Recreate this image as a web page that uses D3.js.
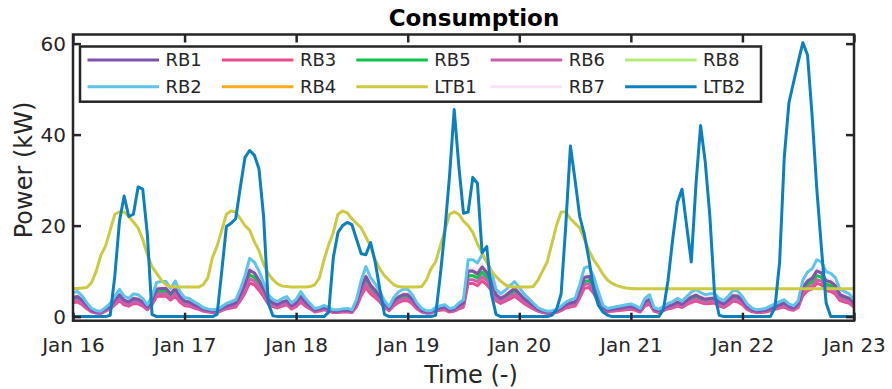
<!DOCTYPE html>
<meta charset="utf-8">
<script src="https://cdn.jsdelivr.net/npm/d3@7"></script>
<style>
    body { margin: 0; background: #fff; }
    text { font-family: "DejaVu Sans", Verdana, sans-serif; fill: #262626; }
</style>
<body>
<script>
// hourly samples, Jan 16 00:00 .. Jan 23 00:00
var start = new Date(2017, 0, 16);
var yTicks = [0, 20, 40, 60];
var names = ["RB1", "RB2", "RB3", "RB4", "RB5", "LTB1", "RB6", "RB7", "RB8", "LTB2"];
var colors = ["#7e53ad", "#5ec4ec", "#ec4a8c", "#fcaa1c", "#0cc44b", "#cdca41", "#cd5faa", "#fbe3f6", "#b4ec74", "#0a80bf"];

var rb2 = [5.3,5.5,4.5,3.0,1.8,1.3,1.2,2.0,2.9,4.5,6.0,4.5,4.0,5.0,4.8,4.0,2.6,4.5,7.5,7.7,7.7,6.2,7.8,5.5,
  4.2,4.0,3.3,2.7,2.0,1.7,1.5,1.6,2.2,2.9,3.3,3.7,6.0,9.0,12.8,12.0,10.0,7.5,4.8,3.8,3.3,4.0,4.4,3.0,
  3.8,5.5,4.0,2.9,1.8,2.0,2.5,2.0,1.5,1.5,1.7,1.8,1.5,3.8,8.0,11.0,8.6,7.2,5.5,3.5,2.2,4.2,5.4,6.0,
  6.0,4.8,3.0,1.8,1.3,1.3,2.0,2.4,2.6,1.8,2.0,3.0,3.7,12.5,12.5,11.8,13.6,12.1,10.0,6.0,5.0,5.8,6.8,7.7,
  6.4,5.0,4.0,3.0,2.0,1.5,1.2,1.3,1.6,2.3,3.2,3.7,4.0,7.0,10.7,11.0,8.8,5.5,2.5,1.8,2.0,2.2,2.4,2.6,
  2.8,2.4,1.8,4.0,4.8,2.0,1.6,2.2,2.9,3.3,4.0,3.4,4.4,5.4,5.9,5.3,4.8,5.0,5.1,4.0,3.5,4.5,5.8,5.6,
  4.4,2.8,1.9,1.5,1.6,1.8,2.3,2.8,3.3,3.7,2.8,2.4,3.5,8.0,9.8,10.5,12.5,12.0,9.9,9.5,8.5,6.0,5.5,5.0,
  3.7];
var rb7 = [4.5,4.7,3.8,2.6,1.5,1.1,1.0,1.7,2.5,3.8,5.1,3.8,3.4,4.3,4.1,3.4,2.2,3.8,6.4,6.5,6.5,5.3,6.6,4.7,
  3.6,3.4,2.8,2.3,1.7,1.4,1.3,1.4,1.9,2.5,2.8,3.1,5.1,7.7,10.9,10.2,8.5,6.4,4.1,3.2,2.8,3.4,3.7,2.6,
  3.2,4.7,3.4,2.5,1.5,1.7,2.1,1.7,1.3,1.3,1.4,1.5,1.3,3.2,6.8,9.4,7.3,6.1,4.7,3.0,1.9,3.6,4.6,5.1,
  5.1,4.1,2.6,1.5,1.1,1.1,1.7,2.0,2.2,1.5,1.7,2.6,3.1,10.6,10.6,10.0,11.6,10.3,8.5,5.1,4.3,4.9,5.8,6.5,
  5.4,4.3,3.4,2.6,1.7,1.3,1.0,1.1,1.4,2.0,2.7,3.1,3.4,6.0,9.1,9.4,7.5,4.7,2.1,1.5,1.7,1.9,2.0,2.2,
  2.4,2.0,1.5,3.4,4.1,1.7,1.4,1.9,2.5,2.8,3.4,2.9,3.7,4.6,5.0,4.5,4.1,4.3,4.3,3.4,3.0,3.8,4.9,4.8,
  3.7,2.4,1.6,1.3,1.4,1.5,2.0,2.4,2.8,3.1,2.4,2.0,3.0,6.8,8.3,8.9,10.6,10.2,8.4,8.1,7.2,5.1,4.7,4.3,
  3.1];
var rb1 = [4.2,4.4,3.6,2.4,1.4,1.0,1.0,1.6,2.3,3.6,4.8,3.6,3.2,4.0,3.8,3.2,2.1,3.6,6.0,6.2,6.2,5.0,6.2,4.4,
  3.4,3.2,2.6,2.2,1.6,1.4,1.2,1.3,1.8,2.3,2.6,3.0,4.8,7.2,10.2,9.6,8.0,6.0,3.8,3.0,2.6,3.2,3.5,2.4,
  3.0,4.4,3.2,2.3,1.4,1.6,2.0,1.6,1.2,1.2,1.4,1.4,1.2,3.0,6.4,8.8,6.9,5.8,4.4,2.8,1.8,3.4,4.3,4.8,
  4.8,3.8,2.4,1.4,1.0,1.0,1.6,1.9,2.1,1.4,1.6,2.4,3.0,10.0,10.0,9.4,10.9,9.7,8.0,4.8,4.0,4.6,5.4,6.2,
  5.1,4.0,3.2,2.4,1.6,1.2,1.0,1.0,1.3,1.8,2.6,3.0,3.2,5.6,8.6,8.8,7.0,4.4,2.0,1.4,1.6,1.8,1.9,2.1,
  2.2,1.9,1.4,3.2,3.8,1.6,1.3,1.8,2.3,2.6,3.2,2.7,3.5,4.3,4.7,4.2,3.8,4.0,4.1,3.2,2.8,3.6,4.6,4.5,
  3.5,2.2,1.5,1.2,1.3,1.4,1.8,2.2,2.6,3.0,2.2,1.9,2.8,6.4,7.8,8.4,10.0,9.6,7.9,7.6,6.8,4.8,4.4,4.0,
  3.0];
var rb4 = [4.2,4.4,3.6,2.4,1.4,1.0,1.0,1.6,2.3,3.6,4.8,3.6,3.2,4.0,3.8,3.2,2.1,3.6,6.0,6.2,6.2,5.0,6.2,4.4,
  3.4,3.2,2.6,2.2,1.6,1.4,1.2,1.3,1.8,2.3,2.6,3.0,4.8,7.2,10.2,9.6,8.0,6.0,3.8,3.0,2.6,3.2,3.5,2.4,
  3.0,4.4,3.2,2.3,1.4,1.6,2.0,1.6,1.2,1.2,1.4,1.4,1.2,3.0,6.4,8.8,6.9,5.8,4.4,2.8,1.8,3.4,4.3,4.8,
  4.8,3.8,2.4,1.4,1.0,1.0,1.6,1.9,2.1,1.4,1.6,2.4,3.0,10.0,10.0,9.4,10.9,9.7,8.0,4.8,4.0,4.6,5.4,6.2,
  5.1,4.0,3.2,2.4,1.6,1.2,1.0,1.0,1.3,1.8,2.6,3.0,3.2,5.6,8.6,8.8,7.0,4.4,2.0,1.4,1.6,1.8,1.9,2.1,
  2.2,1.9,1.4,3.2,3.8,1.6,1.3,1.8,2.3,2.6,3.2,2.7,3.5,4.3,4.7,4.2,3.8,4.0,4.1,3.2,2.8,3.6,4.6,4.5,
  3.5,2.2,1.5,1.2,1.3,1.4,1.8,2.2,2.6,3.0,2.2,1.9,2.8,6.4,7.8,8.4,10.0,9.6,7.9,7.6,6.8,4.8,4.4,4.0,
  3.0];
var rb5 = [3.8,4.0,3.2,2.2,1.3,0.9,0.9,1.4,2.1,3.2,4.3,3.2,2.9,3.6,3.5,2.9,1.9,3.2,5.4,5.5,5.5,4.5,5.6,4.0,
  3.0,2.9,2.4,1.9,1.4,1.2,1.1,1.2,1.6,2.1,2.4,2.7,4.3,6.5,9.2,8.6,7.2,5.4,3.5,2.7,2.4,2.9,3.2,2.2,
  2.7,4.0,2.9,2.1,1.3,1.4,1.8,1.4,1.1,1.1,1.2,1.3,1.1,2.7,5.8,7.9,6.2,5.2,4.0,2.5,1.6,3.0,3.9,4.3,
  4.3,3.5,2.2,1.3,0.9,0.9,1.4,1.7,1.9,1.3,1.4,2.2,2.7,9.0,9.0,8.5,9.8,8.7,7.2,4.3,3.6,4.2,4.9,5.5,
  4.6,3.6,2.9,2.2,1.4,1.1,0.9,0.9,1.2,1.7,2.3,2.7,2.9,5.0,7.7,7.9,6.3,4.0,1.8,1.3,1.4,1.6,1.7,1.9,
  2.0,1.7,1.3,2.9,3.5,1.4,1.2,1.6,2.1,2.4,2.9,2.4,3.2,3.9,4.2,3.8,3.5,3.6,3.7,2.9,2.5,3.2,4.2,4.0,
  3.2,2.0,1.4,1.1,1.2,1.3,1.7,2.0,2.4,2.7,2.0,1.7,2.5,5.8,7.1,7.6,9.0,8.6,7.1,6.8,6.1,4.3,4.0,3.6,
  2.7];
var rb8 = [3.8,4.0,3.2,2.2,1.3,0.9,0.9,1.4,2.1,3.2,4.3,3.2,2.9,3.6,3.5,2.9,1.9,3.2,5.4,5.5,5.5,4.5,5.6,4.0,
  3.0,2.9,2.4,1.9,1.4,1.2,1.1,1.2,1.6,2.1,2.4,2.7,4.3,6.5,9.2,8.6,7.2,5.4,3.5,2.7,2.4,2.9,3.2,2.2,
  2.7,4.0,2.9,2.1,1.3,1.4,1.8,1.4,1.1,1.1,1.2,1.3,1.1,2.7,5.8,7.9,6.2,5.2,4.0,2.5,1.6,3.0,3.9,4.3,
  4.3,3.5,2.2,1.3,0.9,0.9,1.4,1.7,1.9,1.3,1.4,2.2,2.7,9.0,9.0,8.5,9.8,8.7,7.2,4.3,3.6,4.2,4.9,5.5,
  4.6,3.6,2.9,2.2,1.4,1.1,0.9,0.9,1.2,1.7,2.3,2.7,2.9,5.0,7.7,7.9,6.3,4.0,1.8,1.3,1.4,1.6,1.7,1.9,
  2.0,1.7,1.3,2.9,3.5,1.4,1.2,1.6,2.1,2.4,2.9,2.4,3.2,3.9,4.2,3.8,3.5,3.6,3.7,2.9,2.5,3.2,4.2,4.0,
  3.2,2.0,1.4,1.1,1.2,1.3,1.7,2.0,2.4,2.7,2.0,1.7,2.5,5.8,7.1,7.6,9.0,8.6,7.1,6.8,6.1,4.3,4.0,3.6,
  2.7];
var rb6 = [3.4,3.6,2.9,2.0,1.2,0.8,0.8,1.3,1.9,2.9,3.9,2.9,2.6,3.3,3.1,2.6,1.7,2.9,4.9,5.0,5.0,4.0,5.1,3.6,
  2.7,2.6,2.1,1.8,1.3,1.1,1.0,1.0,1.4,1.9,2.1,2.4,3.9,5.9,8.3,7.8,6.5,4.9,3.1,2.5,2.1,2.6,2.9,2.0,
  2.5,3.6,2.6,1.9,1.2,1.3,1.6,1.3,1.0,1.0,1.1,1.2,1.0,2.5,5.2,7.2,5.6,4.7,3.6,2.3,1.4,2.7,3.5,3.9,
  3.9,3.1,2.0,1.2,0.8,0.8,1.3,1.6,1.7,1.2,1.3,2.0,2.4,8.1,8.1,7.7,8.8,7.9,6.5,3.9,3.3,3.8,4.4,5.0,
  4.2,3.3,2.6,2.0,1.3,1.0,0.8,0.8,1.0,1.5,2.1,2.4,2.6,4.6,7.0,7.2,5.7,3.6,1.6,1.2,1.3,1.4,1.6,1.7,
  1.8,1.6,1.2,2.6,3.1,1.3,1.0,1.4,1.9,2.1,2.6,2.2,2.9,3.5,3.8,3.4,3.1,3.3,3.3,2.6,2.3,2.9,3.8,3.6,
  2.9,1.8,1.2,1.0,1.0,1.2,1.5,1.8,2.1,2.4,1.8,1.6,2.3,5.2,6.4,6.8,8.1,7.8,6.4,6.2,5.5,3.9,3.6,3.3,
  2.4];
var rb3 = [3.1,3.2,2.6,1.7,1.0,0.8,0.7,1.2,1.7,2.6,3.5,2.6,2.3,2.9,2.8,2.3,1.5,2.6,4.4,4.5,4.5,3.6,4.5,3.2,
  2.4,2.3,1.9,1.6,1.2,1.0,0.9,0.9,1.3,1.7,1.9,2.1,3.5,5.2,7.4,7.0,5.8,4.4,2.8,2.2,1.9,2.3,2.6,1.7,
  2.2,3.2,2.3,1.7,1.0,1.2,1.5,1.2,0.9,0.9,1.0,1.0,0.9,2.2,4.6,6.4,5.0,4.2,3.2,2.0,1.3,2.4,3.1,3.5,
  3.5,2.8,1.7,1.0,0.8,0.8,1.2,1.4,1.5,1.0,1.2,1.7,2.1,7.3,7.3,6.8,7.9,7.0,5.8,3.5,2.9,3.4,3.9,4.5,
  3.7,2.9,2.3,1.7,1.2,0.9,0.7,0.8,0.9,1.3,1.9,2.1,2.3,4.1,6.2,6.4,5.1,3.2,1.5,1.0,1.2,1.3,1.4,1.5,
  1.6,1.4,1.0,2.3,2.8,1.2,0.9,1.3,1.7,1.9,2.3,2.0,2.6,3.1,3.4,3.1,2.8,2.9,3.0,2.3,2.0,2.6,3.4,3.2,
  2.6,1.6,1.1,0.9,0.9,1.0,1.3,1.6,1.9,2.1,1.6,1.4,2.0,4.6,5.7,6.1,7.3,7.0,5.7,5.5,4.9,3.5,3.2,2.9,
  2.1];
var ltb1 = [6.2,6.2,6.3,6.4,7.5,10.0,13.5,15.5,19.0,22.5,23.0,23.0,22.0,20.8,19.5,17.0,13.5,11.0,9.5,8.0,7.0,6.6,6.5,6.5,
  6.5,6.5,6.5,6.5,7.0,8.5,13.0,15.5,19.0,22.5,23.2,23.0,21.5,20.0,19.0,16.5,14.5,11.5,9.5,8.1,7.2,6.7,6.6,6.5,
  6.5,6.5,6.5,6.6,7.0,8.5,12.5,15.8,18.5,22.5,23.2,22.8,21.5,20.5,19.5,17.5,15.5,12.5,10.5,9.0,8.0,7.0,6.6,6.5,
  6.5,6.5,6.5,6.6,8.0,10.5,12.0,15.5,19.0,22.5,23.0,22.5,21.0,20.0,18.5,16.0,14.0,12.0,10.0,8.8,7.8,7.0,6.6,6.5,
  6.5,6.5,6.5,6.6,8.0,10.0,12.0,16.0,20.0,23.0,23.0,21.5,20.5,19.5,17.0,14.5,12.5,11.0,9.3,8.0,7.3,6.8,6.5,6.3,
  6.2,6.1,6.1,6.1,6.1,6.1,6.1,6.1,6.1,6.1,6.1,6.1,6.1,6.1,6.1,6.1,6.1,6.1,6.1,6.1,6.1,6.1,6.1,6.1,
  6.1,6.1,6.1,6.1,6.1,6.1,6.1,6.1,6.1,6.1,6.1,6.1,6.1,6.1,6.1,6.1,6.1,6.1,6.1,6.1,6.1,6.1,6.1,6.1,
  6.1];
var ltb2 = [0,0,0,0,0,0,0,0,0.3,9.0,21.0,26.5,22.0,22.5,28.5,28.0,18.0,0.5,0,0,0,0,0,0,
  0,0,0,0,0,0,0,0.5,10.0,19.8,20.5,21.5,28.5,35.0,36.5,35.5,32.5,22.0,3.0,0.2,0,0,0,0,
  0,0,0,0,0,0,0,1.0,13.0,18.5,20.0,20.7,20.2,17.0,13.8,13.6,16.3,12.0,6.0,0.5,0,0,0,0,
  0,0,0,0,0,0,0.3,9.0,19.0,31.0,45.5,33.0,22.7,23.0,30.6,29.3,14.0,15.4,5.0,0.5,0,0,0,0,
  0,0,0,0,0,0,0,0.3,1.5,5.0,20.0,37.5,30.0,22.0,18.0,12.5,6.0,2.5,1.0,0.3,0,0,0,0,
  0,0,0,0,0,0,0,1.5,8.0,17.0,25.0,28.0,20.0,12.0,29.0,42.0,34.0,22.0,5.0,0.3,0,0,0,0,
  0,0,0,0,0,0,0,2.0,12.0,35.0,47.0,51.5,56.0,60.2,57.5,44.0,28.0,15.0,3.0,0,0,0,0,0,
  0];

var series = {RB1: rb1, RB2: rb2, RB3: rb3, RB4: rb4, RB5: rb5, LTB1: ltb1, RB6: rb6, RB7: rb7, RB8: rb8, LTB2: ltb2};
// hidden series first, light blue on top of the RB bundle
var drawOrder = ["RB7", "RB4", "RB8", "RB5", "RB3", "RB6", "RB1", "RB2", "LTB1", "LTB2"];

var width = 892, height = 389;
var margin = {top: 34.5, right: 38, bottom: 68.3, left: 73};
var axisColor = "#262626";

var svg = d3.select("body").append("svg")
    .attr("width", width)
    .attr("height", height);

var x = d3.scaleTime()
    .domain([start, d3.timeDay.offset(start, 7)])
    .range([margin.left, width - margin.right]);
var y = d3.scaleLinear()
    .domain([-0.9, 62])
    .range([height - margin.bottom, margin.top]);

svg.append("clipPath").attr("id", "plot")
  .append("rect")
    .attr("x", margin.left)
    .attr("y", margin.top)
    .attr("width", width - margin.left - margin.right)
    .attr("height", height - margin.top - margin.bottom);

var line = d3.line()
    .x(function(d, i) { return x(d3.timeHour.offset(start, i)); })
    .y(function(d) { return y(d); });

svg.append("g").attr("clip-path", "url(#plot)")
  .selectAll("path")
    .data(drawOrder)
    .enter().append("path")
    .attr("d", function(k) { return line(series[k]); })
    .attr("fill", "none")
    .attr("stroke", function(k) { return colors[names.indexOf(k)]; })
    .attr("stroke-width", 3)
    .attr("stroke-linejoin", "round");

// axes, ticks inward like the original
var dayTicks = d3.timeDay.range(start, d3.timeDay.offset(start, 8));
function styleAxis(g) {
    g.select(".domain").remove();
    g.selectAll(".tick line").attr("stroke", axisColor).attr("stroke-width", 2.5);
    g.selectAll(".tick text").attr("fill", axisColor).style("font-size", "20px");
}
svg.append("g")
    .attr("transform", "translate(0," + (height - margin.bottom) + ")")
    .call(d3.axisBottom(x).tickValues(dayTicks).tickFormat(d3.timeFormat("%b %d"))
        .tickSizeInner(-8).tickSizeOuter(0).tickPadding(17))
    .call(styleAxis);
svg.append("g")
    .attr("transform", "translate(0," + margin.top + ")")
    .call(d3.axisTop(x).tickValues(dayTicks).tickFormat("").tickSizeInner(-8).tickSizeOuter(0))
    .call(styleAxis);
svg.append("g")
    .attr("transform", "translate(" + margin.left + ",0)")
    .call(d3.axisLeft(y).tickValues(yTicks).tickSizeInner(-8).tickSizeOuter(0).tickPadding(7))
    .call(styleAxis);
svg.append("g")
    .attr("transform", "translate(" + (width - margin.right) + ",0)")
    .call(d3.axisRight(y).tickValues(yTicks).tickFormat("").tickSizeInner(-8).tickSizeOuter(0))
    .call(styleAxis);

svg.append("rect")
    .attr("x", margin.left)
    .attr("y", margin.top)
    .attr("width", width - margin.left - margin.right)
    .attr("height", height - margin.top - margin.bottom)
    .attr("fill", "none")
    .attr("stroke", axisColor)
    .attr("stroke-width", 2.5);

// title and labels
svg.append("text")
    .attr("x", 474).attr("y", 26)
    .attr("text-anchor", "middle")
    .style("font-size", "23px").style("font-weight", "bold")
    .style("fill", "#000")
    .text("Consumption");
svg.append("text")
    .attr("x", 471).attr("y", 383)
    .attr("text-anchor", "middle")
    .style("font-size", "24px")
    .text("Time (-)");
svg.append("text")
    .attr("transform", "translate(31.5,170) rotate(-90)")
    .attr("text-anchor", "middle")
    .style("font-size", "24px")
    .text("Power (kW)");

// legend, 2 rows x 5 columns, column-major
var legend = svg.append("g");
legend.append("rect")
    .attr("x", 80).attr("y", 46.5)
    .attr("width", 681).attr("height", 55.2)
    .attr("fill", "#fff")
    .attr("stroke", axisColor)
    .attr("stroke-width", 2.5);
var item = legend.selectAll("g.item")
    .data(names)
    .enter().append("g")
    .attr("class", "item")
    .attr("transform", function(d, i) {
        return "translate(" + (87.5 + Math.floor(i / 2) * 134.4) + "," + (60 + (i % 2) * 26.7) + ")";
    });
item.append("line")
    .attr("x1", 0).attr("x2", 71.5)
    .attr("stroke", function(d, i) { return colors[i]; })
    .attr("stroke-width", 3);
item.append("text")
    .attr("x", 78).attr("dy", "0.35em")
    .style("font-size", "18px")
    .text(function(d) { return d; });
</script>
</body>
</html>
